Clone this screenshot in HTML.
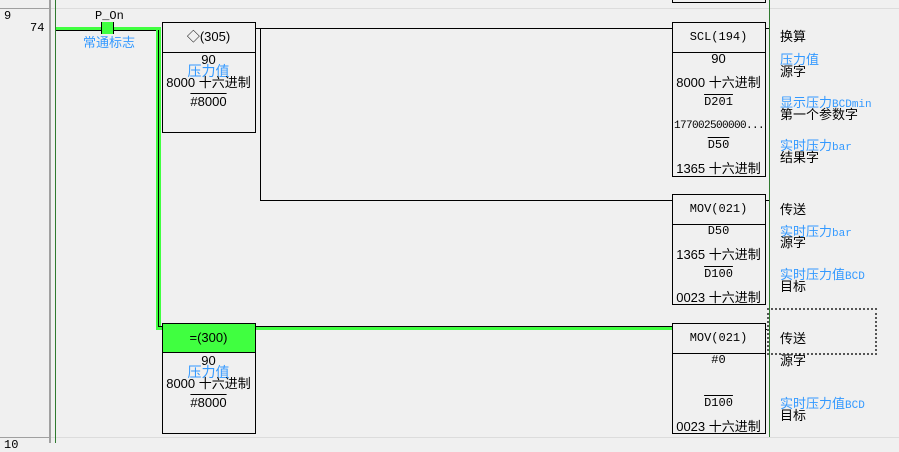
<!DOCTYPE html>
<html><head><meta charset="utf-8"><style>
body{margin:0;width:899px;height:443px;background:#f0f0f0;position:relative;overflow:hidden;font-family:"Liberation Sans","Noto Sans CJK SC",sans-serif;font-size:12px;color:#000}
div{position:absolute;box-sizing:border-box}
.box{border:1px solid #000;background:#f0f0f0}
.t{white-space:nowrap;font-size:13px;line-height:14px}
.m{font-family:"Liberation Mono","Noto Sans CJK SC",monospace;font-size:12px}
.b{color:#3399ff}
.c{text-align:center;width:93px}
.ov{text-decoration:overline}
</style></head><body>
<div style="left:0;top:0;width:51px;height:443px;border-right:2px solid #a0a0a0"></div>
<div style="left:0;top:8px;width:899px;height:1px;background:#dcdcdc"></div>
<div style="left:0;top:437px;width:899px;height:1px;background:#dcdcdc"></div>
<div style="left:0;top:8px;width:51px;height:1px;background:#a0a0a0"></div>
<div style="left:0;top:437px;width:51px;height:1px;background:#a0a0a0"></div>
<div class="t m" style="left:4px;top:9px">9</div>
<div class="t m" style="left:30px;top:21px">74</div>
<div class="t m" style="left:4px;top:438px">10</div>
<div style="left:55px;top:0;width:1px;height:443px;background:#2f7a2f"></div>
<div style="left:769px;top:0;width:1px;height:437px;background:#2f7a2f"></div>
<div style="left:56px;top:27px;width:104px;height:4px;background:#40ff40;border-bottom:1px solid #000"></div>
<div style="left:156px;top:27px;width:5px;height:303px;background:#40ff40"></div>
<div style="left:158px;top:30px;width:1px;height:298px;background:#000"></div>
<div style="left:158px;top:326px;width:514px;height:4px;background:#40ff40;border-top:1px solid #000"></div>
<div style="left:101px;top:22px;width:13px;height:12px;background:#40ff40;border:1px solid #000;border-top:none;border-bottom:none"></div>
<div class="t m" style="left:95px;top:9px">P_On</div>
<div class="t b" style="left:83px;top:36px">常通标志</div>
<div style="left:255px;top:28px;width:417px;height:1px;background:#000"></div>
<div style="left:260px;top:28px;width:1px;height:173px;background:#000"></div>
<div style="left:260px;top:200px;width:412px;height:1px;background:#000"></div>
<div style="left:765px;top:28px;width:4px;height:1px;background:#000"></div>
<div style="left:765px;top:200px;width:4px;height:1px;background:#000"></div>
<div style="left:765px;top:329px;width:4px;height:1px;background:#000"></div>
<div class="box" style="left:162px;top:22px;width:94px;height:111px"></div>
<div style="left:162px;top:52px;width:94px;height:1px;background:#000"></div>
<div class="t c" style="left:162px;top:30px">◇(305)</div>
<div class="t c" style="left:162px;top:53px">90</div>
<div class="t c b" style="left:162px;top:64px;font-size:14px">压力值</div>
<div class="t c" style="left:162px;top:76px">8000 十六进制</div>
<div class="t c ov" style="left:162px;top:95px">#8000</div>
<div class="box" style="left:162px;top:323px;width:94px;height:111px"></div>
<div style="left:163px;top:324px;width:92px;height:29px;background:#40ff40;border-bottom:1px solid #000"></div>
<div class="t c" style="left:162px;top:331px">=(300)</div>
<div class="t c" style="left:162px;top:354px">90</div>
<div class="t c b" style="left:162px;top:365px;font-size:14px">压力值</div>
<div class="t c" style="left:162px;top:377px">8000 十六进制</div>
<div class="t c ov" style="left:162px;top:396px">#8000</div>
<div style="left:672px;top:-5px;width:94px;height:8px;border:1px solid #000"></div>
<div class="box" style="left:672px;top:22px;width:94px;height:155px"></div>
<div style="left:672px;top:52px;width:94px;height:1px;background:#000"></div>
<div class="t c m" style="left:672px;top:30px">SCL(194)</div>
<div class="t c" style="left:672px;top:52px">90</div>
<div class="t c" style="left:672px;top:76px">8000 十六进制</div>
<div class="t c m ov" style="left:672px;top:95px">D201</div>
<div class="t c m" style="left:672px;top:119px;width:94px;font-size:11px;letter-spacing:-0.6px">177002500000...</div>
<div class="t c m ov" style="left:672px;top:138px">D50</div>
<div class="t c" style="left:672px;top:162px">1365 十六进制</div>
<div class="box" style="left:672px;top:194px;width:94px;height:111px"></div>
<div style="left:672px;top:224px;width:94px;height:1px;background:#000"></div>
<div class="t c m" style="left:672px;top:202px">MOV(021)</div>
<div class="t c m" style="left:672px;top:224px">D50</div>
<div class="t c" style="left:672px;top:248px">1365 十六进制</div>
<div class="t c m ov" style="left:672px;top:267px">D100</div>
<div class="t c" style="left:672px;top:291px">0023 十六进制</div>
<div class="box" style="left:672px;top:323px;width:94px;height:111px"></div>
<div style="left:672px;top:353px;width:94px;height:1px;background:#000"></div>
<div class="t c m" style="left:672px;top:331px">MOV(021)</div>
<div class="t c m" style="left:672px;top:353px">#0</div>
<div class="t c m ov" style="left:672px;top:396px">D100</div>
<div class="t c" style="left:672px;top:420px">0023 十六进制</div>
<div style="left:767px;top:308px;width:110px;height:47px;border:2px dotted #555"></div>
<div class="t" style="left:780px;top:30px">换算</div>
<div class="t b" style="left:780px;top:53px">压力值</div>
<div class="t" style="left:780px;top:65px">源字</div>
<div class="t b" style="left:780px;top:96px">显示压力<span class="m" style="font-size:11px">BCDmin</span></div>
<div class="t" style="left:780px;top:108px">第一个参数字</div>
<div class="t b" style="left:780px;top:139px">实时压力<span class="m" style="font-size:11px">bar</span></div>
<div class="t" style="left:780px;top:151px">结果字</div>
<div class="t" style="left:780px;top:203px">传送</div>
<div class="t b" style="left:780px;top:225px">实时压力<span class="m" style="font-size:11px">bar</span></div>
<div class="t" style="left:780px;top:236px">源字</div>
<div class="t b" style="left:780px;top:268px">实时压力值<span class="m" style="font-size:11px">BCD</span></div>
<div class="t" style="left:780px;top:280px">目标</div>
<div class="t" style="left:780px;top:332px">传送</div>
<div class="t" style="left:780px;top:354px">源字</div>
<div class="t b" style="left:780px;top:397px">实时压力值<span class="m" style="font-size:11px">BCD</span></div>
<div class="t" style="left:780px;top:409px">目标</div>
</body></html>
